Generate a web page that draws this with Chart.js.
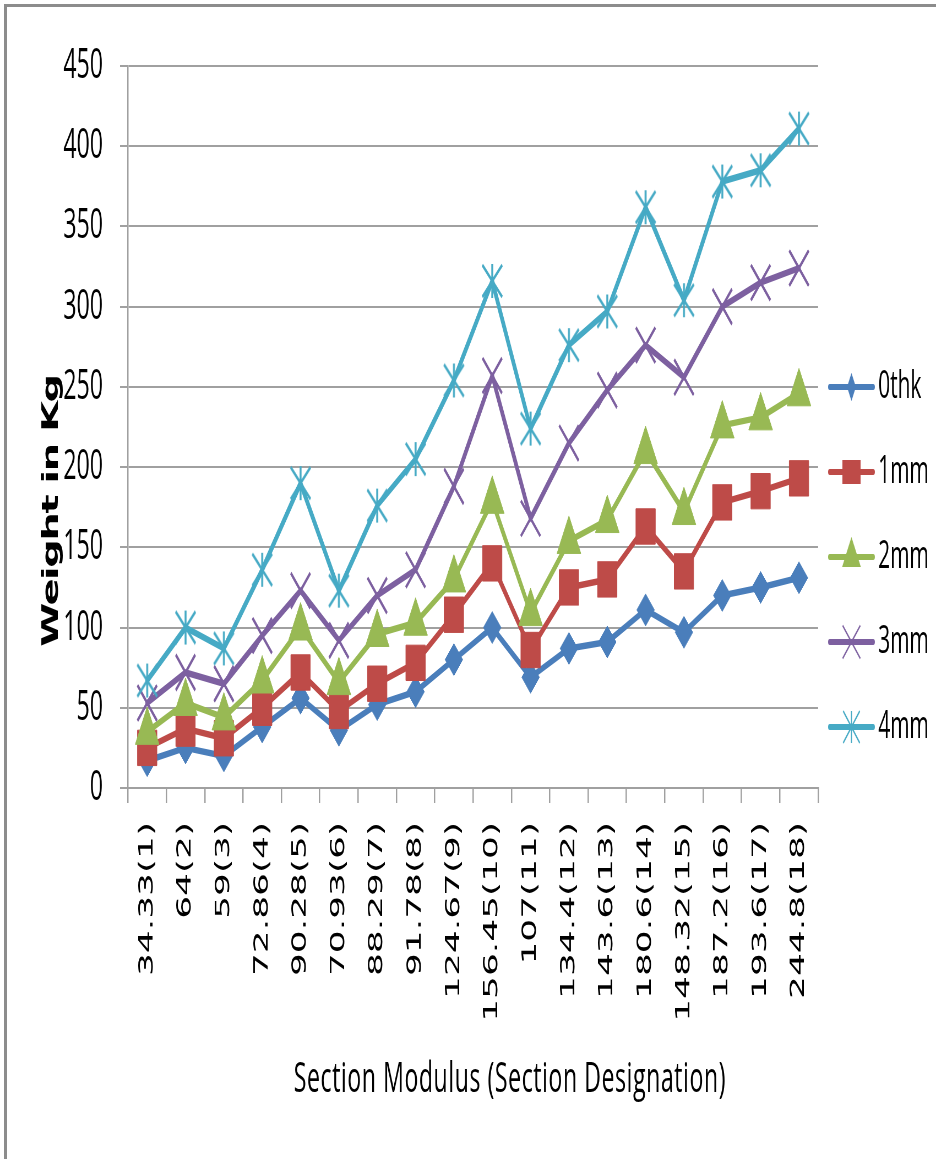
<!DOCTYPE html>
<html>
<head>
<meta charset="utf-8">
<script src="https://cdn.jsdelivr.net/npm/chart.js@4.4.1/dist/chart.umd.min.js"></script>
<style>
  html, body { margin: 0; padding: 0; background: #fff; overflow: hidden; }
  #wrap { position: absolute; left: 0; top: 0; width: 1700px; height: 1159px;
          transform: scaleX(0.550588); transform-origin: 0 0; }
  #frame { position: absolute; left: 4px; top: 4px; width: 980px; height: 1200px;
           border-left: 3px solid #8c8c8c; border-top: 3px solid #8c8c8c; pointer-events: none; }
</style>
</head>
<body>
<div id="wrap"><canvas id="chart" width="1700" height="1159"></canvas></div>
<div id="frame"></div>
<script>
// Section modulus (section designation) categories
const categories = [
  "34.33(1)", "64(2)", "59(3)", "72.86(4)", "90.28(5)", "70.93(6)",
  "88.29(7)", "91.78(8)", "124.67(9)", "156.45(10)", "107(11)", "134.4(12)",
  "143.6(13)", "180.6(14)", "148.32(15)", "187.2(16)", "193.6(17)", "244.8(18)"
];

// Weight in kg for each coating thickness
const thk0 = [17, 25, 20, 38, 56, 36, 52, 60, 80, 100, 69, 87, 91, 111, 97, 120, 125, 131];
const mm1  = [25, 37, 31, 50, 72, 48, 65, 78, 108, 140, 86, 125, 130, 163, 135, 178, 185, 193];
const mm2  = [35, 53, 44, 67, 100, 66, 96, 103, 130, 179, 109, 154, 167, 210, 172, 226, 231, 246];
const mm3  = [53, 72, 65, 95, 123, 92, 120, 136, 188, 257, 168, 215, 248, 276, 256, 300, 315, 324];
const mm4  = [67, 100, 87, 136, 190, 123, 176, 205, 254, 316, 224, 276, 297, 362, 304, 378, 385, 411];

const seriesNames = ["0thk", "1mm", "2mm", "3mm", "4mm"];
const yTicks = { min: 0, max: 450, step: 50 };
const xTitle = "Section Modulus (Section Designation)";
const yTitle = "Weight in Kg";

const BLUE = '#4a7ebb', RED = '#be4b48', GREEN = '#98b954', PURPLE = '#7d60a0', CYAN = '#46aac5';

// asterisk-style marker: a diagonal cross with a vertical bar
function starImage(w, h, lw, color) {
  const c = document.createElement('canvas');
  c.width = w; c.height = h;
  const g = c.getContext('2d');
  g.strokeStyle = color; g.lineWidth = lw;
  g.beginPath();
  g.moveTo(w / 2, 1); g.lineTo(w / 2, h - 1);
  g.moveTo(2, 2); g.lineTo(w - 2, h - 2);
  g.moveTo(w - 2, 2); g.lineTo(2, h - 2);
  g.stroke();
  return c;
}

// legend sample: a short line with the series marker on it
function legendSample(color, shape) {
  const c = document.createElement('canvas');
  c.width = 101; c.height = 60;
  const g = c.getContext('2d');
  const x = 42.5, y = 30;
  g.strokeStyle = color; g.fillStyle = color;
  g.lineWidth = 6; g.lineCap = 'round';
  g.beginPath(); g.moveTo(3, y); g.lineTo(82, y); g.stroke();
  g.lineCap = 'butt';
  g.beginPath();
  if (shape === 'diamond') {
    g.moveTo(x - 8, y); g.lineTo(x, y - 14); g.lineTo(x + 8, y); g.lineTo(x, y + 14);
    g.closePath(); g.fill();
  } else if (shape === 'square') {
    g.rect(x - 16.5, y - 12, 33, 24); g.fill();
  } else if (shape === 'triangle') {
    g.moveTo(x, y - 20); g.lineTo(x + 17, y + 10); g.lineTo(x - 17, y + 10);
    g.closePath(); g.fill();
  } else if (shape === 'x') {
    g.lineWidth = 2;
    g.moveTo(x - 16, y - 16.5); g.lineTo(x + 16, y + 16.5);
    g.moveTo(x + 16, y - 16.5); g.lineTo(x - 16, y + 16.5);
    g.stroke();
  } else if (shape === 'star') {
    g.lineWidth = 2;
    g.moveTo(x - 15, y - 16); g.lineTo(x + 15, y + 16);
    g.moveTo(x + 15, y - 16); g.lineTo(x - 15, y + 16);
    g.moveTo(x, y - 16); g.lineTo(x, y + 16);
    g.stroke();
  }
  return c;
}

const legendSamples = [
  legendSample(BLUE, 'diamond'),
  legendSample(RED, 'square'),
  legendSample(GREEN, 'triangle'),
  legendSample(PURPLE, 'x'),
  legendSample(CYAN, 'star')
];

function series(label, data, color, pointStyle, radius, order, pbw) {
  return {
    label, data, order,
    borderColor: color, backgroundColor: color,
    borderWidth: 6.5, tension: 0,
    borderJoinStyle: 'round', borderCapStyle: 'round',
    pointStyle, pointRadius: radius,
    pointBackgroundColor: color, pointBorderColor: color,
    pointBorderWidth: pbw
  };
}

// axis titles drawn at their own positions
const axisTitles = {
  id: 'axisTitles',
  afterDraw(chart) {
    const ctx = chart.ctx;
    ctx.save();
    ctx.fillStyle = '#000';
    ctx.font = 'bold 40px "DejaVu Sans"';
    if ('letterSpacing' in ctx) ctx.letterSpacing = '-1.5px';
    ctx.textAlign = 'center';
    ctx.textBaseline = 'alphabetic';
    ctx.translate(105, 511);
    ctx.rotate(-Math.PI / 2);
    ctx.fillText(yTitle, 0, 0);
    ctx.restore();

    ctx.save();
    ctx.fillStyle = '#000';
    ctx.font = '42px "Open Sans"';
    if ('letterSpacing' in ctx) ctx.letterSpacing = '1px';
    ctx.textAlign = 'center';
    ctx.textBaseline = 'alphabetic';
    ctx.fillText(xTitle, 926, 1092);
    ctx.restore();
  }
};

new Chart(document.getElementById('chart'), {
  type: 'line',
  data: {
    labels: categories,
    datasets: [
      series(seriesNames[0], thk0, BLUE, 'rectRot', 16, 5, 1),
      series(seriesNames[1], mm1, RED, 'rect', 25, 4, 1),
      series(seriesNames[2], mm2, GREEN, 'triangle', 25, 3, 1),
      series(seriesNames[3], mm3, PURPLE, 'crossRot', 25, 2, 3.5),
      series(seriesNames[4], mm4, CYAN, starImage(40, 36, 3.5, CYAN), 20, 1, 1)
    ]
  },
  options: {
    responsive: false,
    devicePixelRatio: 1,
    animation: false,
    events: [],
    layout: { padding: { top: 66, bottom: 111, left: 0, right: 3 } },
    scales: {
      x: {
        type: 'category',
        offset: true,
        grid: { offset: true, drawOnChartArea: false, drawTicks: true, tickLength: 15,
                color: '#a0a0a0', lineWidth: 2.5 },
        border: { display: true, color: '#a0a0a0', width: 2 },
        ticks: { autoSkip: false, minRotation: 90, maxRotation: 90, padding: 19,
                 color: '#000', font: { family: 'DejaVu Sans', size: 36 } },
        afterFit(s) { s.height = 260; }
      },
      y: {
        min: yTicks.min, max: yTicks.max,
        ticks: { stepSize: yTicks.step, padding: 31, color: '#000',
                 font: { family: 'Open Sans', size: 42 } },
        grid: { color: '#a0a0a0', lineWidth: 2, tickLength: 14.5, drawTicks: true },
        border: { display: true, color: '#a0a0a0', width: 2.5 },
        afterFit(s) { s.width = 232.5; }
      }
    },
    plugins: {
      tooltip: { enabled: false },
      title: { display: false },
      legend: {
        position: 'right',
        align: 'center',
        labels: {
          usePointStyle: true,
          pointStyleWidth: 43,
          padding: 47,
          color: '#000',
          font: { family: 'Open Sans', size: 38 },
          sort: (a, b) => a.datasetIndex - b.datasetIndex,
          generateLabels(chart) {
            const items = Chart.defaults.plugins.legend.labels.generateLabels(chart);
            items.forEach(it => { it.pointStyle = legendSamples[it.datasetIndex]; });
            return items;
          }
        }
      }
    }
  },
  plugins: [axisTitles]
});
</script>
</body>
</html>
